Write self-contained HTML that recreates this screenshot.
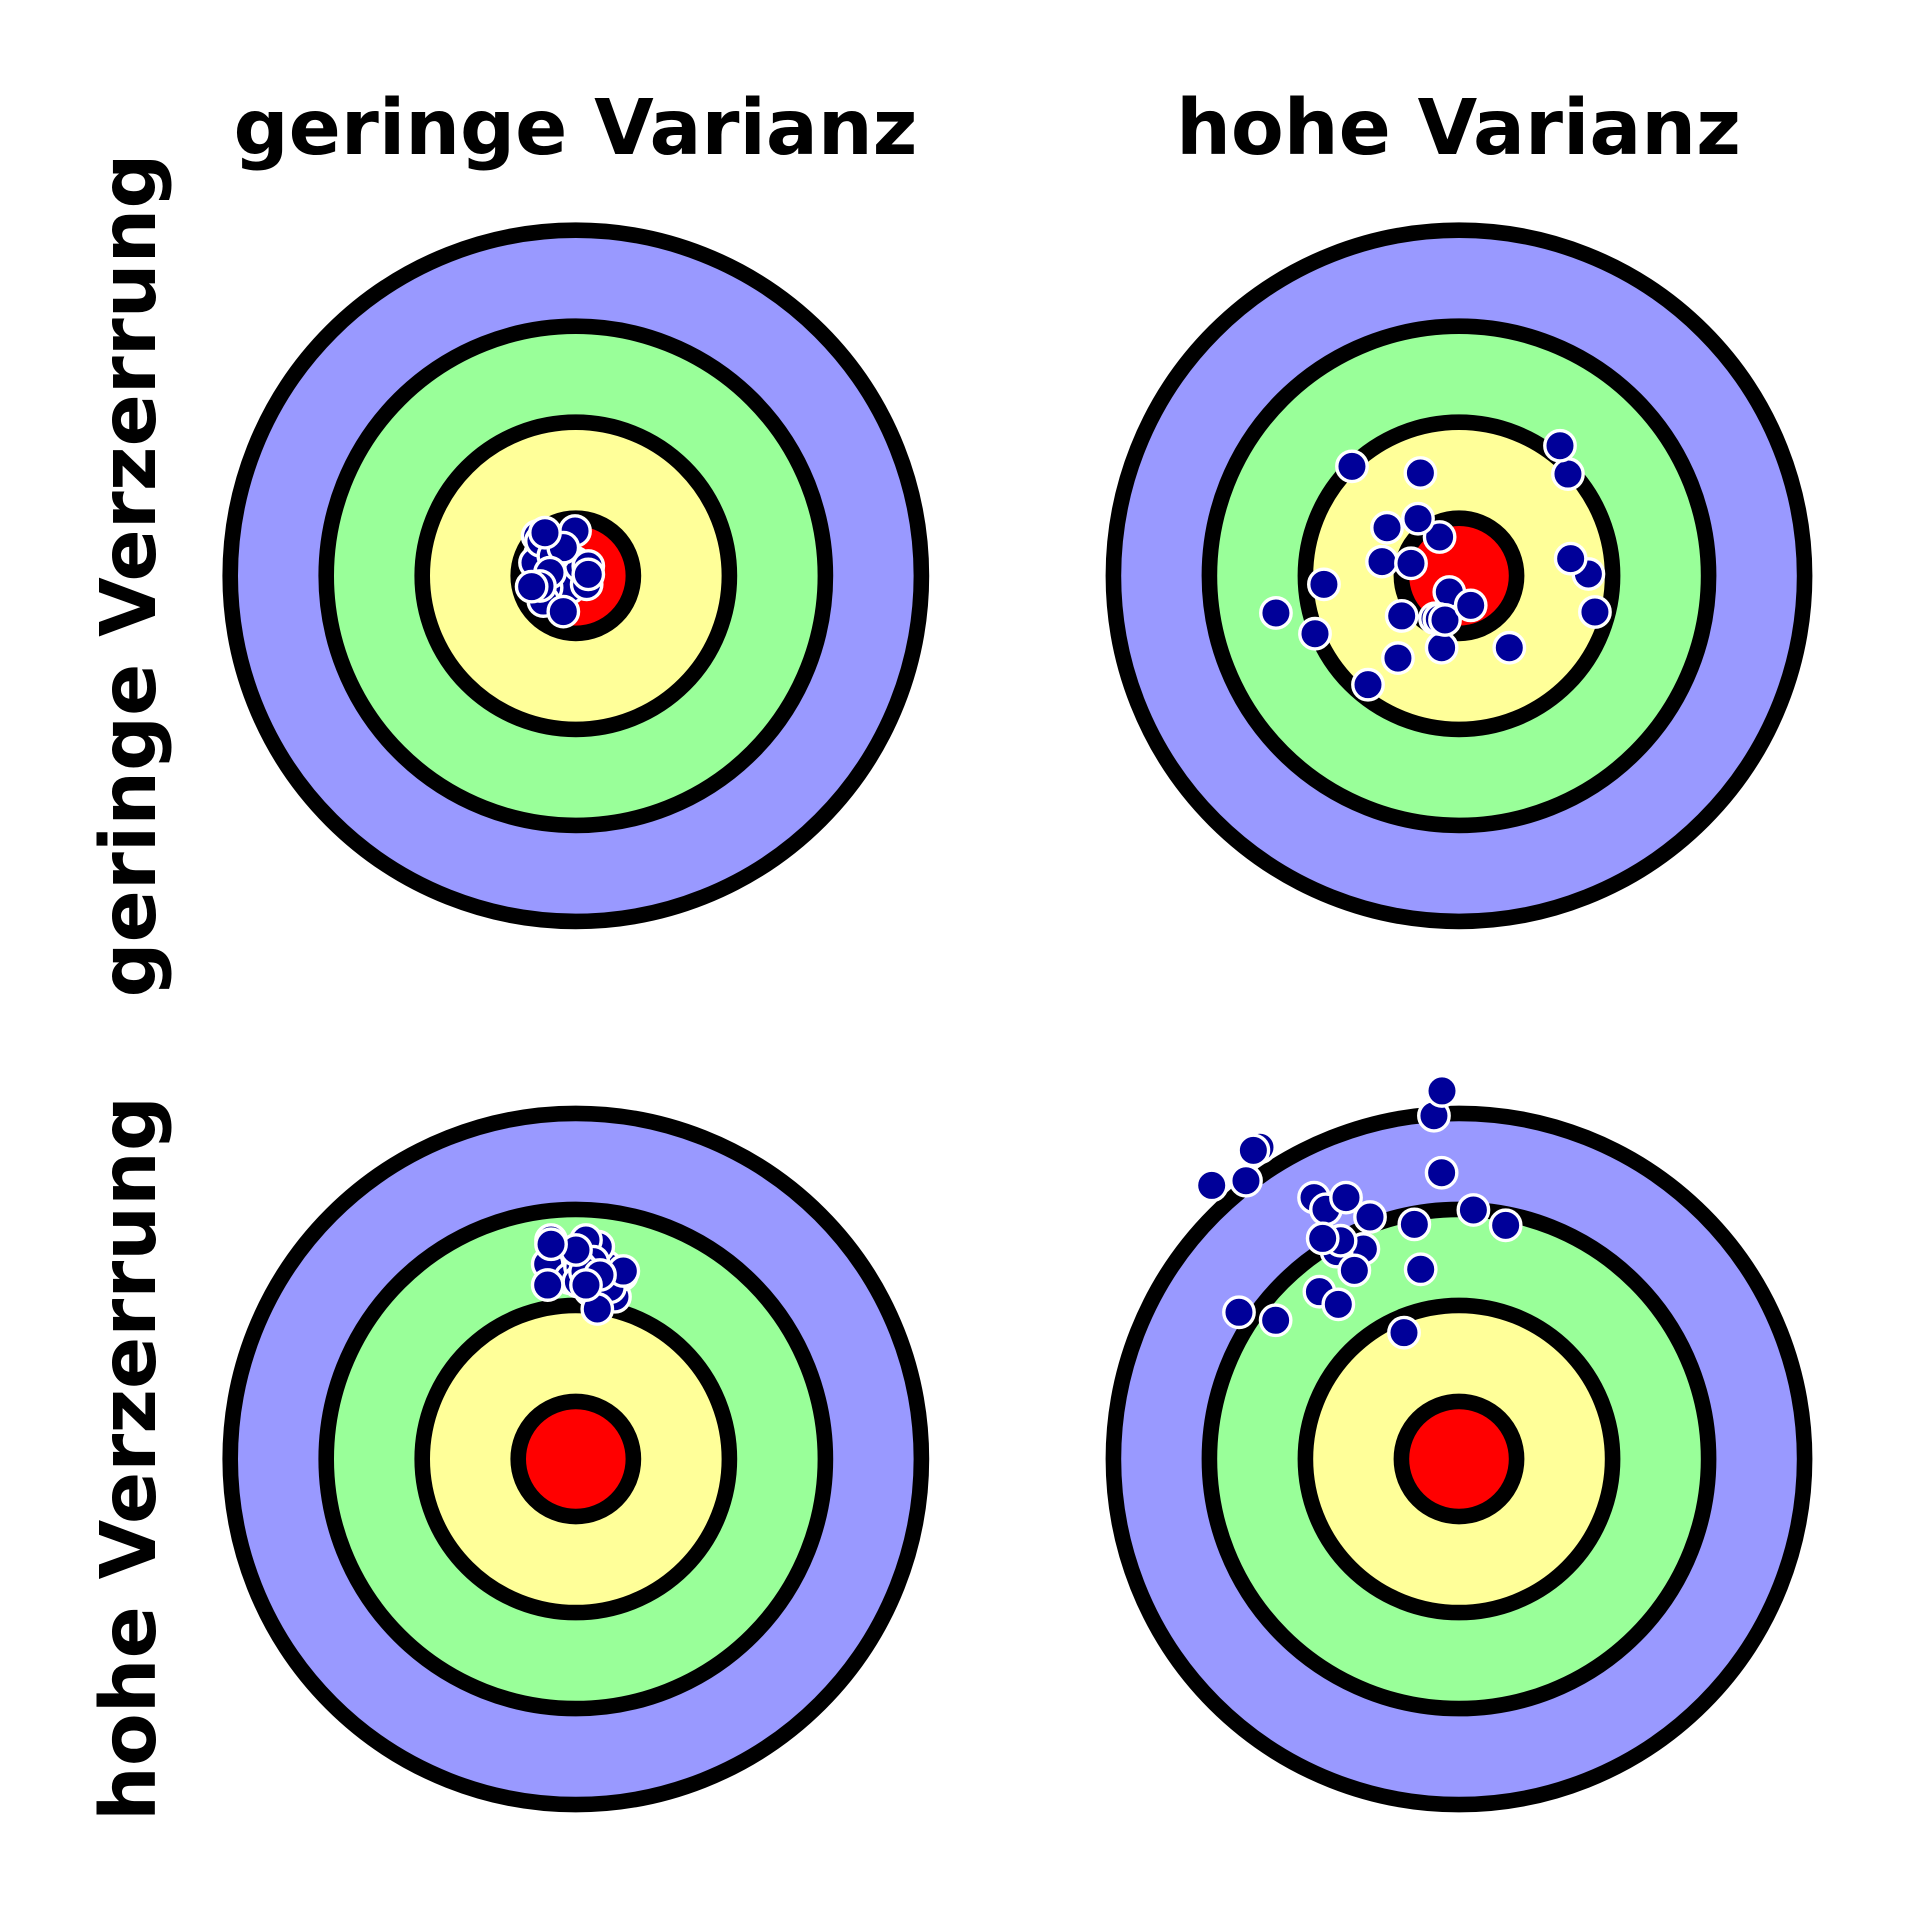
<!DOCTYPE html>
<html lang="de">
<head>
<meta charset="utf-8">
<title>Verzerrung und Varianz</title>
<style>
html,body{margin:0;padding:0;background:#fff;width:1920px;height:1920px;overflow:hidden}
svg{display:block}
text{font-family:"DejaVu Sans","Liberation Sans",sans-serif;font-weight:700;fill:#000;font-size:77px;text-anchor:middle}
</style>
</head>
<body>
<svg id="chart" xmlns="http://www.w3.org/2000/svg" width="1920" height="1920" viewBox="0 0 1920 1920">
  <rect width="1920" height="1920" fill="#fff"/>
  <text x="575.5" y="154">geringe Varianz</text>
  <text x="1458.5" y="154">hohe Varianz</text>
  <text transform="translate(155 575.5) rotate(-90)">geringe Verzerrung</text>
  <text transform="translate(155 1458.5) rotate(-90)">hohe Verzerrung</text>
  <g id="targets"></g>
</svg>
<script>
// Ring radii and hit coordinates share one data unit (ring spacing = 1); y points up.
const ringRadii = [3.6, 2.6, 1.6, 0.6];
const ringNames = ['blue', 'green', 'yellow', 'red'];
const ringColors = ['#9999ff', '#99ff99', '#ffff99', '#ff0000'];

const lowBiasLowVarX = [-0.199,-0.008,-0.112,0.009,-0.165,-0.217,-0.060,-0.304,0.044,-0.373,-0.425,-0.398,-0.363,-0.008,-0.234,-0.130,-0.321,-0.338,-0.269,0.130,0.113,0.130,-0.373,-0.460,-0.130];
const lowBiasLowVarY = [0.362,0.137,0.085,-0.054,-0.124,-0.211,-0.124,-0.124,0.102,0.224,0.137,0.414,0.362,0.467,0.207,0.293,0.449,-0.263,0.033,0.102,-0.089,0.015,-0.106,-0.113,-0.373];

const lowBiasHighVarX = [-1.115,-0.402,1.135,1.052,-0.750,-0.202,-0.427,-0.802,-0.500,-1.407,-1.907,-1.500,-0.597,-0.181,0.524,-0.636,-0.948,1.348,1.163,1.416,-0.101,-0.250,-0.205,-0.146,0.122];
const lowBiasHighVarY = [1.140,1.071,1.060,1.355,0.501,0.404,0.595,0.148,0.130,-0.089,-0.387,-0.603,-0.418,-0.749,-0.749,-0.857,-1.134,0.019,0.179,-0.377,-0.169,-0.443,-0.450,-0.460,-0.308];

const highBiasLowVarX = [0.391,0.252,-0.130,0.321,-0.165,0.148,0.234,0.106,0.182,-0.258,-0.293,0.408,0.478,0.356,-0.060,0.044,0.027,0.096,0.495,0.224,0.002,-0.258,-0.293,0.252,0.106];
const highBiasLowVarY = [1.864,2.073,1.969,2.004,2.108,1.760,2.212,2.281,2.056,2.281,2.031,1.690,1.917,1.788,1.882,2.004,1.847,1.951,1.958,1.563,2.177,2.237,1.812,1.917,1.812];

const highBiasHighVarX = [-2.073,-2.142,-2.576,-2.219,-0.261,-0.177,-0.181,-1.510,-1.386,-1.177,-0.927,-0.465,0.150,0.486,-0.399,-0.996,-1.275,-1.233,-1.420,-1.090,-1.454,-1.257,-2.292,-1.910,-0.573];
const highBiasHighVarY = [3.247,3.215,2.850,2.899,3.576,3.834,2.982,2.723,2.601,2.723,2.521,2.444,2.594,2.434,1.976,2.188,2.160,2.274,2.298,1.965,1.743,1.611,1.528,1.445,1.316];

const columnKeys = ['low-variance', 'high-variance'];
const rowKeys = ['low-bias', 'high-bias'];

const UNIT = 96;
const COL_CENTERS = [575.8, 1459];
const ROW_CENTERS = [575.8, 1459];
const NS = 'http://www.w3.org/2000/svg';
const root = document.getElementById('targets');

function xScale(col, v) { return COL_CENTERS[col] + v * UNIT; }
function yScale(row, v) { return ROW_CENTERS[row] - v * UNIT; }

function drawPanel(row, col, xs, ys) {
  const panelName = rowKeys[row] + '-' + columnKeys[col];
  const g = document.createElementNS(NS, 'g');
  
  
  root.appendChild(g);

  ringRadii.forEach(function (r, i) {
    const ring = document.createElementNS(NS, 'circle');
    
    
    ring.setAttribute('cx', xScale(col, 0));
    ring.setAttribute('cy', yScale(row, 0));
    ring.setAttribute('r', r * UNIT);
    ring.setAttribute('fill', ringColors[i]);
    ring.setAttribute('stroke', '#000');
    ring.setAttribute('stroke-width', 15.6);
    g.appendChild(ring);
  });

  xs.forEach(function (x, i) {
    const hit = document.createElementNS(NS, 'circle');
    
    
    hit.setAttribute('cx', xScale(col, x));
    hit.setAttribute('cy', yScale(row, ys[i]));
    hit.setAttribute('r', 15.2);
    hit.setAttribute('fill', '#000099');
    hit.setAttribute('stroke', '#fff');
    hit.setAttribute('stroke-width', 3.4);
    g.appendChild(hit);
  });
}

drawPanel(0, 0, lowBiasLowVarX, lowBiasLowVarY);
drawPanel(0, 1, lowBiasHighVarX, lowBiasHighVarY);
drawPanel(1, 0, highBiasLowVarX, highBiasLowVarY);
drawPanel(1, 1, highBiasHighVarX, highBiasHighVarY);
</script>
</body>
</html>
